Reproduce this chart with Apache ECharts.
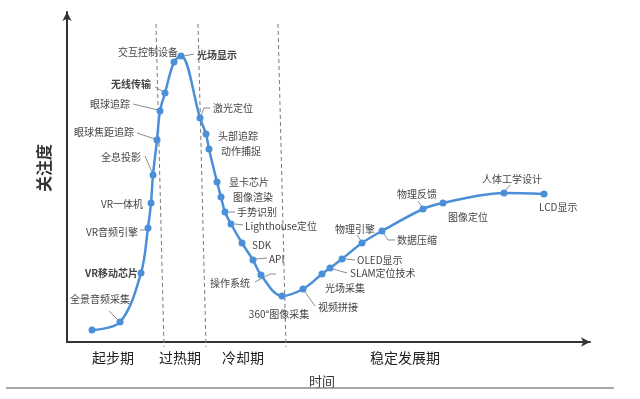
<!DOCTYPE html>
<html>
<head>
<meta charset="utf-8">
<script src="https://cdn.jsdelivr.net/npm/echarts@6/dist/echarts.min.js"></script>
<style>
html, body { margin: 0; padding: 0; background: #fff; }
#chart { width: 640px; height: 399px; }
</style>
</head>
<body>
<div id="chart"></div>
<script>
// 技术名称（第一个点为曲线起点，无标签）
const techNames = [
    '', '全景音频采集', 'VR移动芯片', 'VR音频引擎', 'VR一体机', '全息投影',
    '眼球焦距追踪', '眼球追踪', '无线传输', '交互控制设备', '光场显示',
    '激光定位', '头部追踪', '动作捕捉', '显卡芯片', '图像渲染', '手势识别',
    'Lighthouse定位', 'SDK', 'API', '操作系统', '360°图像采集', '视频拼接',
    '光场采集', 'SLAM定位技术', 'OLED显示', '物理引擎', '数据压缩',
    '物理反馈', '图像定位', '人体工学设计', 'LCD显示'
];
// 时间（横轴）
const timeValues = [
    25, 53, 74, 81, 84, 86,
    90, 93, 98, 107, 114,
    133, 139, 142, 150, 154, 158,
    164, 175, 186, 194, 215, 236,
    255, 263, 275, 295, 315,
    356, 376, 437, 477
];
// 关注度（纵轴）
const attentionValues = [
    12, 20, 69, 114, 139, 167,
    202, 231, 249, 280, 286,
    224, 208, 193, 160, 145, 130,
    118, 99, 82, 67, 46, 53,
    68, 74, 83, 99, 111,
    133, 139, 149, 148
];
const boldNames = ['VR移动芯片', '无线传输', '光场显示'];

// 阶段
const phaseNames = ['起步期', '过热期', '冷却期', '稳定发展期'];
const phaseCenters = [46, 113, 176, 338];
const boundaryTop = [89, 131, 211];
const boundaryBottom = [97, 139, 219];

// 标签摆放（相对于点的像素偏移）
const labelPlacement = {
    '全景音频采集': { dx: -20, dy: -23, align: 'center', leader: [[-2, -2], [-11, -11]] },
    'VR移动芯片': { dx: -3, dy: 0, align: 'right' },
    'VR音频引擎': { dx: -10, dy: 4, align: 'right', leader: [[-3, 2], [-8, 2]] },
    'VR一体机': { dx: -8, dy: 1, align: 'right' },
    '全息投影': { dx: -12, dy: -18, align: 'right', leader: [[-1, -3], [-8, -19]] },
    '眼球焦距追踪': { dx: -23, dy: -8, align: 'right', leader: [[-2, -1], [-20, -7]] },
    '眼球追踪': { dx: -30, dy: -7, align: 'right', leader: [[-2, -1], [-27, -7]] },
    '无线传输': { dx: -14, dy: -9, align: 'right', leader: [[-1, -1], [-10, -6]] },
    '交互控制设备': { dx: 4, dy: -10, align: 'right' },
    '光场显示': { dx: 16, dy: -1, align: 'left', leader: [[3, 0], [13, -2]] },
    '激光定位': { dx: 13, dy: -10, align: 'left', leader: [[1, -2], [4, -10], [10, -10]] },
    '头部追踪': { dx: 12, dy: 2, align: 'left' },
    '动作捕捉': { dx: 12, dy: 2, align: 'left' },
    '显卡芯片': { dx: 12, dy: 0, align: 'left' },
    '图像渲染': { dx: 12, dy: 0, align: 'left' },
    '手势识别': { dx: 12, dy: 0, align: 'left', leader: [[4, 0], [10, 0]] },
    'Lighthouse定位': { dx: 14, dy: 2, align: 'left', leader: [[4, 0], [12, 1]] },
    'SDK': { dx: 10, dy: 2, align: 'left' },
    'API': { dx: 16, dy: -1, align: 'left', leader: [[3, -1], [14, -2]] },
    '操作系统': { dx: -11, dy: 8, align: 'right', leader: [[-6, 7], [9, -1], [15, -1]] },
    '360°图像采集': { dx: -3, dy: 18, align: 'center' },
    '视频拼接': { dx: 15, dy: 18, align: 'left', leader: [[2, 3], [12, 17]] },
    '光场采集': { dx: 3, dy: 14, align: 'left' },
    'SLAM定位技术': { dx: 20, dy: 5, align: 'left', leader: [[3, 1], [17, 5]] },
    'OLED显示': { dx: 15, dy: 1, align: 'left', leader: [[3, 0], [13, 1]] },
    '物理引擎': { dx: -7, dy: -14, align: 'center', leader: [[-1, -2], [-5, -8]] },
    '数据压缩': { dx: 15, dy: 9, align: 'left', leader: [[2, 3], [6, 9], [13, 9]] },
    '物理反馈': { dx: -6, dy: -15, align: 'center', leader: [[-1, -2], [-5, -8]] },
    '图像定位': { dx: 5, dy: 14, align: 'left' },
    '人体工学设计': { dx: 8, dy: -14, align: 'center', leader: [[1, -2], [6, -8]] },
    'LCD显示': { dx: -5, dy: 13, align: 'left' }
};

const FONT = '"Noto Sans CJK SC", "Noto Sans", sans-serif';
const curveColor = '#4a8fd8';

let chart = echarts.init(document.getElementById('chart'), null, { width: 640, height: 399 });

function renderLabel(params, api) {
    let name = techNames[api.value(2)];
    let p = labelPlacement[name];
    if (!p) return null;
    let pt = api.coord([api.value(0), api.value(1)]);
    let children = [];
    if (p.leader) {
        children.push({
            type: 'polyline',
            shape: { points: p.leader.map(d => [pt[0] + d[0], pt[1] + d[1]]) },
            style: { stroke: '#8c8c8c', lineWidth: 1, fill: null }
        });
    }
    children.push({
        type: 'text',
        style: {
            text: name,
            x: pt[0] + p.dx,
            y: pt[1] + p.dy,
            textAlign: p.align,
            textVerticalAlign: 'middle',
            fill: '#444',
            font: (boldNames.includes(name) ? 'bold ' : '') + '10px ' + FONT
        }
    });
    return { type: 'group', children: children };
}

let boundarySeries = boundaryTop.map((top, i) => ({
    type: 'line',
    silent: true,
    clip: false,
    symbol: 'none',
    z: 1,
    lineStyle: { color: '#7a7a7a', width: 1, type: [4, 3] },
    data: [[top, 318], [boundaryBottom[i], -5]]
}));

let option = {
    animation: false,
    grid: { left: 67, right: 50, top: 12, bottom: 57 },
    xAxis: {
        type: 'value', min: 0, max: 523,
        axisLine: { show: true, symbol: ['none', 'arrow'], symbolSize: [7, 9], lineStyle: { color: '#333', width: 2 } },
        axisTick: { show: false }, axisLabel: { show: false }, splitLine: { show: false }
    },
    yAxis: {
        type: 'value', min: 0, max: 330,
        axisLine: { show: true, symbol: ['none', 'arrow'], symbolSize: [7, 9], lineStyle: { color: '#333', width: 2 } },
        axisTick: { show: false }, axisLabel: { show: false }, splitLine: { show: false }
    },
    series: boundarySeries.concat([
        {
            type: 'custom',
            z: 2,
            silent: true,
            renderItem: renderLabel,
            encode: { x: 0, y: 1 },
            data: timeValues.map((t, i) => [t, attentionValues[i], i])
        },
        {
            type: 'line',
            z: 3,
            smooth: 0.35,
            symbol: 'circle',
            symbolSize: 7,
            itemStyle: { color: curveColor },
            lineStyle: { color: curveColor, width: 2.5 },
            data: timeValues.map((t, i) => [t, attentionValues[i]])
        }
    ])
};
option && chart.setOption(option);

// 阶段名称、坐标轴标题与底部分隔线
let graphics = phaseNames.map((n, i) => {
    let p = chart.convertToPixel({ gridIndex: 0 }, [phaseCenters[i], 0]);
    return {
        type: 'text', x: p[0], y: p[1] + 16,
        style: { text: n, textAlign: 'center', textVerticalAlign: 'middle', font: '14px ' + FONT, fill: '#222' }
    };
});
graphics.push({
    type: 'text', x: 322, y: 381,
    style: { text: '时间', textAlign: 'center', textVerticalAlign: 'middle', font: '13px ' + FONT, fill: '#333' }
});
graphics.push({
    type: 'text', x: 44, y: 168, rotation: Math.PI / 2,
    style: { text: '关注度', textAlign: 'center', textVerticalAlign: 'middle', font: 'bold 16px ' + FONT, fill: '#333' }
});
graphics.push({
    type: 'line', shape: { x1: 6, y1: 388, x2: 614, y2: 388 },
    style: { stroke: '#8a8a8a', lineWidth: 1.5 }
});
chart.setOption({ graphic: graphics });
</script>
</body>
</html>
